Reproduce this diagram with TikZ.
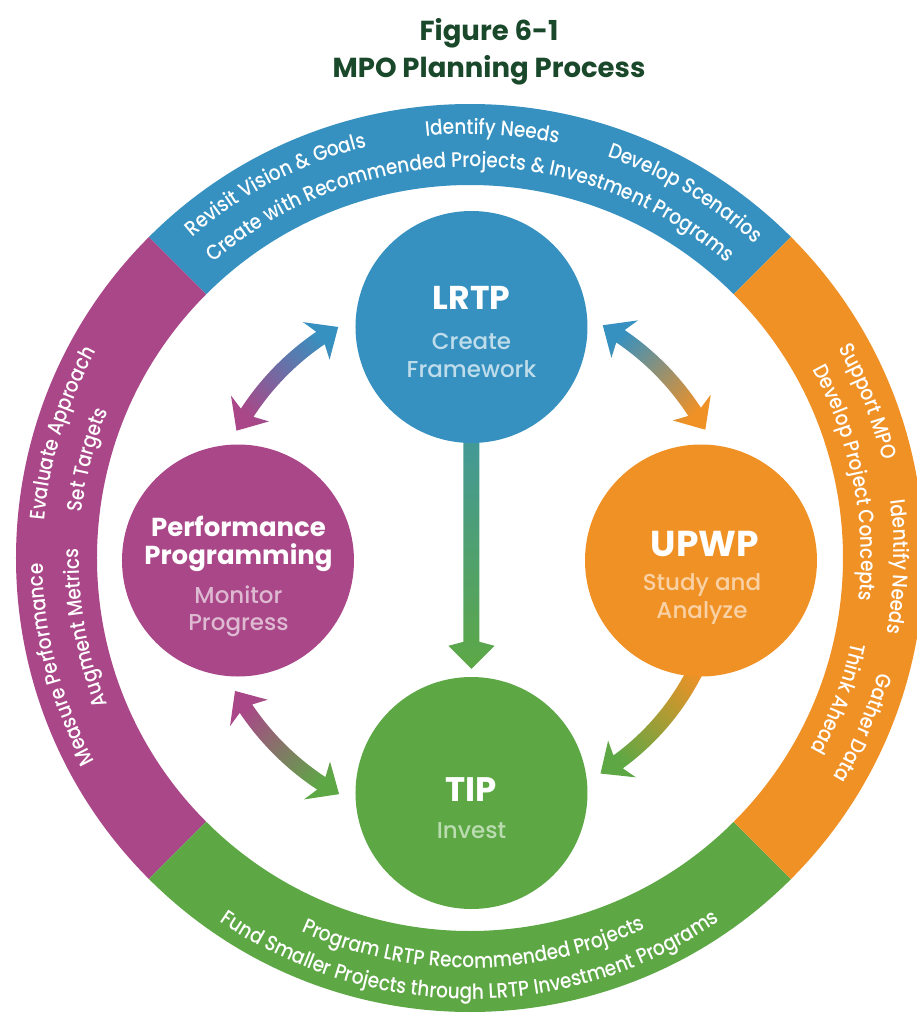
\documentclass[tikz,border=0pt]{standalone}
\usepackage{fontspec}
\setmainfont{Poppins}
\newfontfamily\ringfont{Poppins Medium}[FakeStretch=0.88]
\newfontfamily\medfont{Poppins Medium}
\usetikzlibrary{decorations.text,backgrounds,calc}
\definecolor{cblue}{RGB}{54,145,192}
\definecolor{cpurple}{RGB}{169,71,136}
\definecolor{corange}{RGB}{240,145,38}
\definecolor{cgreen}{RGB}{93,168,69}
\definecolor{ctitle}{RGB}{26,72,43}
\colorlet{lblue}{cblue!32!white}
\colorlet{lpurple}{cpurple!38!white}
\colorlet{lorange}{corange!42!white}
\colorlet{lgreen}{cgreen!42!white}

\newcommand\ringseg[3]{%
  \fill[#3] (#1:454) arc[start angle=#1,end angle=#2,radius=454] -- (#2:373) arc[start angle=#2,end angle=#1,radius=373] -- cycle;}
\newcommand\ringtext[4]{%
  \path[decorate,decoration={text along path,text align=center,text color=white,
    text={|\ringfont\fontsize{21}{21}\selectfont|#4}}] (#2:#1) arc[start angle=#2,end angle=#3,radius=#1];}
\newcommand\arcarrow[4]{%
  \pgfmathsetmacro\arHL{26/#1*57.2958}%
  \shade[#4] (#2:#1) -- ({#2+\arHL}:{#1+23}) -- ({#2+\arHL-1.1}:{#1+7.5})
    arc[start angle={#2+\arHL-1.1}, end angle={#3-\arHL+1.1}, radius={#1+7.5}]
    -- ({#3-\arHL}:{#1+23}) -- (#3:#1) -- ({#3-\arHL}:{#1-23}) -- ({#3-\arHL+1.1}:{#1-7.5})
    arc[start angle={#3-\arHL+1.1}, end angle={#2+\arHL-1.1}, radius={#1-7.5}]
    -- ({#2+\arHL}:{#1-23}) -- cycle;}

\tikzset{
  bubble/.style={circle,minimum size=232pt,inner sep=0pt},
  head/.style={anchor=base,text=white,font=\bfseries\fontsize{#1}{#1}\selectfont},
  sub/.style={anchor=base,font=\medfont\fontsize{23}{23}\selectfont},
  ttl/.style={anchor=base,text=ctitle,font=\bfseries\fontsize{27.5}{27.5}\selectfont}
}

\begin{document}
\begin{tikzpicture}[x=1pt,y=1pt]
\useasboundingbox (-470,-455) rectangle (447,558);
\coordinate (c) at (0,0);

% title
\node[ttl] (t1) at (19,517) {Figure 6-1};
\node[ttl] (t2) at (19,480) {MPO Planning Process};

% ring
\ringseg{45}{135}{cblue}
\ringseg{135}{225}{cpurple}
\ringseg{225}{315}{cgreen}
\ringseg{-45}{45}{corange}

% ring texts
\ringtext{424}{147.5}{87.5}{Revisit Vision {\&} Goals}
\ringtext{424}{107}{67}{Identify Needs}
\ringtext{424}{89.5}{29.5}{Develop Scenarios}
\ringtext{391}{140}{40}{Create with Recommended Projects {\&} Investment Programs}
\ringtext{427}{193}{133}{Evaluate Approach}
\ringtext{391}{195.6}{135.6}{Set Targets}
\ringtext{427}{224.6}{164.6}{Measure Performance}
\ringtext{391}{220.3}{160.3}{Augment Metrics}
\ringtext{424}{51.5}{-8.5}{Support MPO}
\ringtext{391}{51.3}{-28.7}{Develop Project Concepts}
\ringtext{424}{28.8}{-31.2}{Identify Needs}
\ringtext{424}{6.6}{-53.4}{Gather Data}
\ringtext{391}{9.1}{-50.9}{Think Ahead}
\ringtext{410}{225.5}{315.5}{Program LRTP Recommended Projects}
\ringtext{441}{220}{320}{Fund Smaller Projects through LRTP Investment Programs}

% circles
\node[bubble,fill=cblue] (lrtp) at (1.5,231) {};
\node[bubble,fill=cpurple] (perf) at (-232,-2.5) {};
\node[bubble,fill=corange] (upwp) at (231,-2.5) {};
\node[bubble,fill=cgreen] (tip) at (1.5,-235) {};

% arrows (behind circles)
\begin{scope}[on background layer]
\shade[top color=cblue,bottom color=cgreen]
  ($(lrtp.center)+(-8,0)$) -- ($(tip.north)+(-8,35)$) -- ($(tip.north)+(-23,31)$)
  -- ($(tip.north)+(0,8)$) -- ($(tip.north)+(23,31)$) -- ($(tip.north)+(8,35)$)
  -- ($(lrtp.center)+(8,0)$) -- cycle;
\arcarrow{266}{119.7}{151.4}{top color=cblue,bottom color=cpurple,shading angle=-45}
\arcarrow{268}{28.6}{60.3}{top color=cblue,bottom color=corange,shading angle=45}
\arcarrow{270}{209.5}{241}{top color=cpurple,bottom color=cgreen,shading angle=45}
\shade[top color=corange,bottom color=cgreen,shading angle=-45]
  (-22:260) arc[start angle=-22,end angle=-54.0,radius=260] -- (-52.9:275)
  -- (-58.8:252) -- (-52.9:229) -- (-54.0:244) arc[start angle=-54.0,end angle=-22,radius=244] -- cycle;
\end{scope}

% circle texts
\node[head=33] (lrtpa) at (1.5,248) {LRTP};
\node[sub,text=lblue] (lrtpb) at (1.5,209) {Create};
\node[sub,text=lblue] (lrtpc) at (1.5,181) {Framework};

\node[head=26] (perfa) at (-231.5,22) {Performance};
\node[head=26] (perfb) at (-231.5,-6) {Programming};
\node[sub,text=lpurple] (perfc) at (-231.5,-45) {Monitor};
\node[sub,text=lpurple] (perfd) at (-231.5,-72) {Progress};

\node[head=36] (upwpa) at (235,2) {UPWP};
\node[sub,text=lorange] (upwpb) at (232,-32) {Study and};
\node[sub,text=lorange] (upwpc) at (232,-60) {Analyze};

\node[head=34] (tipa) at (1.5,-243) {TIP};
\node[sub,text=lgreen] (tipb) at (1.5,-280) {Invest};
\end{tikzpicture}
\end{document}
